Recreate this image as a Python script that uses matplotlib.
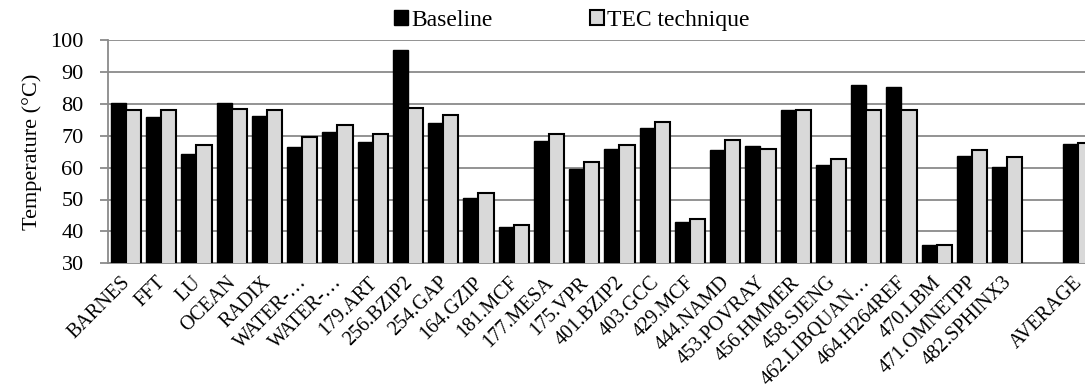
import matplotlib
matplotlib.use('Agg')
import matplotlib.pyplot as plt
import matplotlib.transforms as mtransforms
from matplotlib.patches import Patch
import numpy as np

plt.rcParams['font.family'] = ['Liberation Serif', 'DejaVu Serif']

categories = ['BARNES', 'FFT', 'LU', 'OCEAN', 'RADIX', 'WATER-…', 'WATER-…',
              '179.ART', '256.BZIP2', '254.GAP', '164.GZIP', '181.MCF',
              '177.MESA', '175.VPR', '401.BZIP2', '403.GCC', '429.MCF',
              '444.NAMD', '453.POVRAY', '456.HMMER', '458.SJENG',
              '462.LIBQUAN…', '464.H264REF', '470.LBM', '471.OMNETPP',
              '482.SPHINX3', '', 'AVERAGE']

baseline = [80.4, 75.9, 64.2, 80.1, 76.1, 66.5, 71.3, 67.9, 97.0, 73.9,
            50.6, 41.3, 68.3, 59.7, 65.9, 72.3, 42.9, 65.4, 66.8, 78.1,
            60.8, 85.9, 85.4, 35.6, 63.5, 60.3, np.nan, 67.4]
tec = [78.1, 78.1, 67.2, 78.5, 78.1, 69.6, 73.2, 70.6, 78.7, 76.5,
       52.0, 42.1, 70.4, 61.8, 67.0, 74.3, 43.9, 68.6, 65.9, 78.0,
       62.7, 78.2, 78.2, 35.7, 65.4, 63.3, np.nan, 67.6]

fig = plt.figure(figsize=(10.85, 3.9), dpi=100)
# axes run a bit past the right edge of the picture, as in the original
ax = fig.add_axes([108.3 / 1085, 1 - 263.3 / 390, (28 * 35.25) / 1085, (263.3 - 40) / 390])

x = np.arange(len(categories))
w = 0.43
ax.bar(x - w / 2, baseline, w, color='black', edgecolor='black', linewidth=1.0, zorder=3)
ax.bar(x + w / 2, tec, w, color='#d9d9d9', edgecolor='black', linewidth=1.5, zorder=3)

ax.set_xlim(-0.5, len(categories) - 0.5)
ax.set_ylim(30, 100)
ax.set_yticks(range(30, 101, 10))
ax.yaxis.grid(True, color='#8a8a8a', linewidth=1.3, zorder=0)
ax.set_axisbelow(True)

for s in ['top', 'right']:
    ax.spines[s].set_visible(False)
for s in ['left', 'bottom']:
    ax.spines[s].set_color('#8a8a8a')
    ax.spines[s].set_linewidth(1.3)

ax.tick_params(axis='y', length=5.8, width=1.3, color='#8a8a8a', labelsize=16, pad=12)
ax.tick_params(axis='x', length=0, labelsize=14.5, pad=7)
ax.set_xticks(x)
ax.set_xticklabels(categories, rotation=45, ha='right', va='top', rotation_mode='anchor')
# nudge the slanted labels a little to the left
shift = mtransforms.ScaledTranslation(-5 / 100, 0, fig.dpi_scale_trans)
for lab in ax.get_xticklabels():
    lab.set_transform(lab.get_transform() + shift)
ax.set_ylabel('Temperature (°C)', fontsize=16, labelpad=6)

handles = [Patch(facecolor='black', edgecolor='black', label='Baseline'),
           Patch(facecolor='#d9d9d9', edgecolor='black', linewidth=1.5, label='TEC technique')]
fig.legend(handles=handles, loc='upper center', bbox_to_anchor=(0.527, 1.03), ncol=2,
           frameon=False, fontsize=17, handlelength=0.6, handleheight=0.6,
           handletextpad=0.15, columnspacing=4.1)

fig.savefig('out.png', dpi=100)
